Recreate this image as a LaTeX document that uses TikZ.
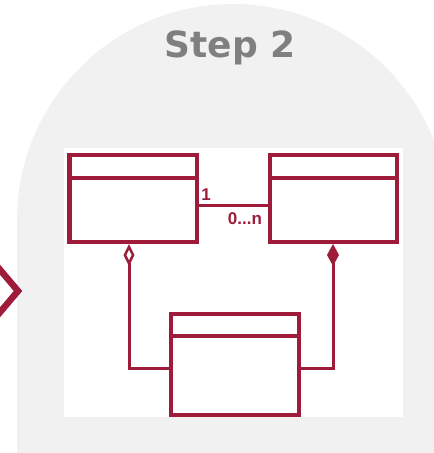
\documentclass[tikz,border=0pt]{standalone}
\usepackage{fontspec}
\setmainfont{DejaVu Sans}
\newfontfamily\multfont{Liberation Sans}
\usetikzlibrary{arrows.meta}
\definecolor{umlred}{HTML}{9E1B3A}
\definecolor{panel}{HTML}{F1F1F1}
\definecolor{titlegray}{HTML}{7F7F7F}
\tikzset{
  classbox/.style={draw=umlred, line width=4.5pt, fill=white, inner sep=0pt},
  divider/.style={draw=umlred, line width=4.5pt},
  conn/.style={draw=umlred, line width=3pt},
  mult/.style={text=umlred, font=\multfont\bfseries\fontsize{17}{17}\selectfont, inner sep=0pt},
  chevron/.style={draw=umlred, line width=6.5pt, miter limit=10},
}
\begin{document}
\begin{tikzpicture}[x=1pt,y=-1pt]
\useasboundingbox (0,0) rectangle (434,453);
\begin{scope}
\clip (0,0) rectangle (434,453);
\fill[panel] (17,460) -- (17,220) arc (180:360:216) -- (449,460) -- cycle;
\end{scope}
\node[text=titlegray, font=\bfseries\fontsize{36}{36}\selectfont, anchor=base] (title) at (230,57) {Step 2};
\draw[chevron] (-4,265) -- (18,291) -- (-4,317);
\node[fill=white, minimum width=339pt, minimum height=269pt, inner sep=0pt, anchor=north west] (canvas) at (64,148) {};
\node[classbox, minimum width=127.5pt, minimum height=87pt] (a) at (133.25,198.5) {};
\node[classbox, minimum width=127pt, minimum height=87pt] (b) at (333.5,198.5) {};
\node[classbox, minimum width=128pt, minimum height=101pt] (c) at (235,364.5) {};
\draw[divider] ([yshift=-25pt]a.north west) -- ([yshift=-25pt]a.north east);
\draw[divider] ([yshift=-25pt]b.north west) -- ([yshift=-25pt]b.north east);
\draw[divider] ([yshift=-24pt]c.north west) -- ([yshift=-24pt]c.north east);
\draw[conn] ([yshift=-6.5pt]a.east) -- ([yshift=-6.5pt]b.west);
\node[mult] (m1) at (206,195) {1};
\node[mult] (m2) at (245,219) {0...n};
\coordinate (d1) at (129,244);
\coordinate (d2) at (333,244);
\draw[conn, {Diamond[open, fill=white, length=22pt, width=11pt, line width=2.5pt]}-] (d1) |- ([yshift=-3.5pt]c.west);
\draw[conn, {Diamond[fill=umlred, length=22pt, width=12pt]}-] (d2) |- ([yshift=-3.5pt]c.east);
\end{tikzpicture}
\end{document}
